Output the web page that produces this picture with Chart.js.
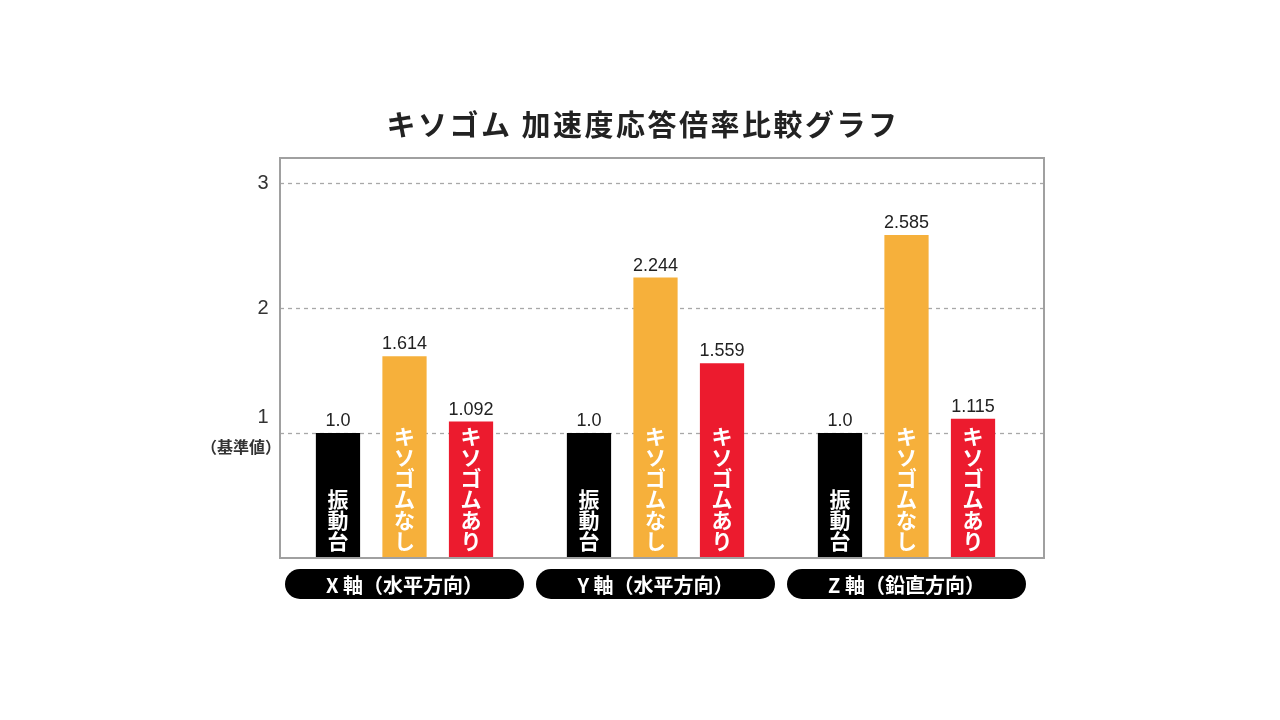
<!DOCTYPE html>
<html>
<head>
<meta charset="utf-8">
<script src="https://cdn.jsdelivr.net/npm/chart.js@4"></script>
<style>
html,body{margin:0;padding:0;background:#fff;}
#wrap{width:1280px;height:720px;}
</style>
</head>
<body>
<div id="wrap"><canvas id="c" width="1280" height="720"></canvas></div>
<script>
const chartTitle = 'キソゴム 加速度応答倍率比較グラフ';
const categories = ['X 軸（水平方向）', 'Y 軸（水平方向）', 'Z 軸（鉛直方向）'];
const seriesNames = ['振動台', 'キソゴムなし', 'キソゴムあり'];
const shakeTable = [1.0, 1.0, 1.0];
const withoutRubber = [1.614, 2.244, 2.585];
const withRubber = [1.092, 1.559, 1.115];
const yTickLabels = [1, 2, 3];
const baseTickNote = '（基準値）';

const JP = '"Noto Sans CJK JP", "Noto Sans", sans-serif';
const NUM = '"Liberation Sans", Arial, sans-serif';

function fmt(v) { return Number.isInteger(v) ? v.toFixed(1) : String(v); }

const decor = {
  id: 'decor',
  beforeDatasetsDraw(chart) {
    const { ctx, chartArea } = chart;
    const y = chart.scales.y;
    const left = chartArea.left + 1, right = chartArea.right + 12;
    ctx.save();
    ctx.strokeStyle = '#a8a8a8';
    ctx.lineWidth = 1.3;
    ctx.setLineDash([4, 4]);
    yTickLabels.forEach(t => {
      const py = Math.round(y.getPixelForValue(t)) + 0.5;
      ctx.beginPath();
      ctx.moveTo(left, py);
      ctx.lineTo(right, py);
      ctx.stroke();
    });
    ctx.restore();
  },
  afterDatasetsDraw(chart) {
    const { ctx, chartArea } = chart;
    const x = chart.scales.x, y = chart.scales.y;
    const left = chartArea.left + 1, right = chartArea.right + 12;
    ctx.save();
    // frame
    ctx.strokeStyle = '#a0a0a0';
    ctx.lineWidth = 2;
    ctx.strokeRect(left, chartArea.top, right - left, chartArea.bottom - chartArea.top);

    // value labels & vertical names
    chart.data.datasets.forEach((ds, di) => {
      const meta = chart.getDatasetMeta(di);
      meta.data.forEach((bar, i) => {
        ctx.fillStyle = '#222';
        ctx.font = '18px ' + NUM;
        ctx.textAlign = 'center';
        ctx.textBaseline = 'alphabetic';
        ctx.fillText(fmt(ds.data[i]), bar.x, bar.y - 7);
        // vertical text
        const chars = Array.from(ds.label);
        ctx.fillStyle = '#fff';
        ctx.font = 'bold 21px ' + JP;
        ctx.textBaseline = 'middle';
        const pitch = 21;
        const lastCenter = bar.base - 17;
        chars.forEach((ch, k) => {
          const cy = lastCenter - (chars.length - 1 - k) * pitch;
          ctx.fillText(ch, bar.x, cy);
        });
      });
    });

    // category pills
    chart.data.labels.forEach((lab, i) => {
      const cx = x.getPixelForValue(i);
      const w = 239, h = 30, cy = chartArea.bottom + 26;
      ctx.fillStyle = '#000';
      ctx.beginPath();
      ctx.roundRect(cx - w / 2, cy - h / 2, w, h, h / 2);
      ctx.fill();
      ctx.fillStyle = '#fff';
      ctx.font = 'bold 20px ' + JP;
      ctx.textAlign = 'center';
      ctx.textBaseline = 'middle';
      ctx.fillText(lab, cx, cy + 1);
    });

    // y labels
    yTickLabels.forEach(t => {
      const py = y.getPixelForValue(t);
      ctx.fillStyle = '#333';
      ctx.font = '20px ' + NUM;
      ctx.textAlign = 'center';
      ctx.textBaseline = 'middle';
      if (t === 1) {
        ctx.fillText(String(t), 263, py - 16);
        ctx.font = 'bold 16px ' + JP;
        ctx.fillStyle = '#333';
        ctx.textAlign = 'right';
        ctx.fillText(baseTickNote, 281, py + 14);
      } else {
        ctx.fillText(String(t), 263, py);
      }
    });

    // title
    ctx.fillStyle = '#222';
    ctx.font = 'bold 29px ' + JP;
    ctx.textAlign = 'center';
    ctx.textBaseline = 'middle';
    if ('letterSpacing' in ctx) ctx.letterSpacing = '2.5px';
    ctx.fillText(chartTitle, 643, 125);
    ctx.restore();
  }
};

new Chart(document.getElementById('c'), {
  type: 'bar',
  data: {
    labels: categories,
    datasets: [
      { label: seriesNames[0], data: shakeTable, backgroundColor: '#000000' },
      { label: seriesNames[1], data: withoutRubber, backgroundColor: '#F6B03B' },
      { label: seriesNames[2], data: withRubber, backgroundColor: '#EC1B2E' }
    ]
  },
  options: {
    responsive: false,
    animation: false,
    devicePixelRatio: 1,
    layout: { padding: { left: 279, right: 248, top: 158, bottom: 162 } },
    datasets: { bar: { categoryPercentage: 0.795, barPercentage: 0.665 } },
    plugins: { legend: { display: false }, title: { display: false }, tooltip: { enabled: false } },
    scales: {
      x: { display: false, offset: true },
      y: { display: false, min: 0, max: 3.2 }
    }
  },
  plugins: [decor]
});
</script>
</body>
</html>
